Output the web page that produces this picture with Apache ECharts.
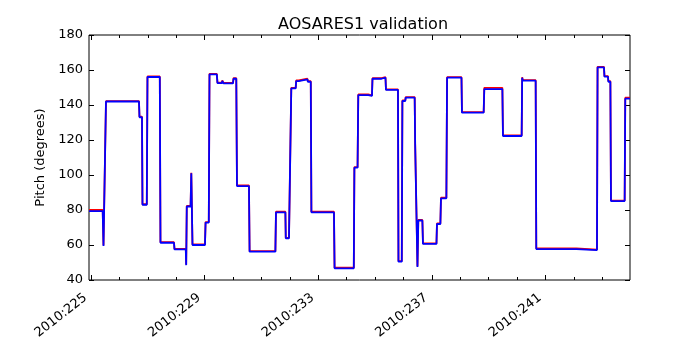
<!DOCTYPE html>
<html>
<head>
<meta charset="utf-8">
<script src="https://cdn.jsdelivr.net/npm/echarts@6/dist/echarts.min.js"></script>
<style>
  html, body { margin: 0; padding: 0; background: #fff; }
  #main { width: 700px; height: 350px; }
</style>
</head>
<body>
<div id="main"></div>
<script>
// day of year 2010 (fractional) at each vertex of the step trace
var days = [
  224.930, 225.412, 225.440, 225.500, 225.528, 226.690, 226.708, 226.796, 226.813, 226.965,
  226.989, 227.423, 227.447, 227.923, 227.940, 228.338, 228.352, 228.373, 228.507, 228.532,
  228.549, 228.574, 229.014, 229.035, 229.148, 229.173, 229.430, 229.454, 229.613, 229.623,
  229.658, 229.665, 230.000, 230.018, 230.116, 230.141, 230.563, 230.585, 231.493, 231.514,
  231.845, 231.859, 231.972, 231.982, 232.028, 232.053, 232.208, 232.225, 232.313, 232.331,
  232.623, 232.634, 232.739, 232.761, 233.556, 233.577, 234.254, 234.275, 234.387, 234.412,
  234.764, 234.775, 234.894, 234.912, 235.229, 235.239, 235.370, 235.387, 235.810, 235.827,
  235.944, 235.965, 236.067, 236.081, 236.398, 236.415, 236.475, 236.496, 236.525, 236.669,
  236.690, 237.165, 237.183, 237.303, 237.324, 237.514, 237.539, 238.046, 238.063, 238.827,
  238.849, 239.486, 239.507, 240.165, 240.183, 240.204, 240.658, 240.680, 242.095, 242.113,
  242.817, 242.838, 243.063, 243.081, 243.204, 243.218, 243.289, 243.310, 243.792, 243.813,
  243.979
];
// telemetry pitch (blue)
var bluePitch = [
  79.4, 79.4, 59.4, 59.4, 142, 142, 133, 133, 83, 83,
  156, 156, 61.3, 61.3, 57.5, 57.5, 48.5, 82, 82, 101,
  100, 60, 60, 72.8, 72.8, 157.5, 157.5, 152.5, 152.5, 153.8,
  153.8, 152.4, 152.4, 155, 155, 93.7, 93.7, 56.2, 56.2, 78.7,
  78.7, 63.8, 63.8, 63, 63, 149.5, 149.5, 153.7, 153.7, 154.7,
  154.7, 153.3, 153.3, 78.7, 78.7, 46.7, 46.7, 104.2, 104.2, 145.7,
  145.7, 145.2, 145.2, 155, 155, 155.6, 155.6, 148.6, 148.6, 50.5,
  50.5, 142.3, 142.3, 144.2, 144.2, 117.5, 117.5, 47.5, 74, 74,
  60.6, 60.6, 72, 72, 86.7, 86.7, 155.6, 155.6, 135.6, 135.6,
  149.1, 149.1, 122.3, 122.3, 155.6, 153.9, 153.9, 57.7, 57.7, 57.1,
  57.1, 161.5, 161.5, 156.2, 156.2, 153.3, 153.3, 85.1, 85.1, 143.6,
  143.6
];
// model pitch (red)
var redPitch = [
  80.0, 80.0, 59.8, 59.8, 142.2, 142.2, 133.3, 133.3, 83.3, 83.3,
  156.3, 156.3, 61.6, 61.6, 57.8, 57.8, 48.9, 82.3, 82.3, 101.3,
  100.3, 60.3, 60.3, 73.1, 73.1, 157.8, 157.8, 152.8, 152.8, 154.1,
  154.1, 152.7, 152.7, 155.3, 155.3, 94.0, 94.0, 56.5, 56.5, 79.0,
  79.0, 64.1, 64.1, 63.3, 63.3, 149.8, 149.8, 154.0, 154.0, 155.0,
  155.0, 153.6, 153.6, 79.0, 79.0, 47.0, 47.0, 104.5, 104.5, 146.0,
  146.0, 145.5, 145.5, 155.3, 155.3, 155.9, 155.9, 148.9, 148.9, 50.8,
  50.8, 142.6, 142.6, 144.5, 144.5, 117.8, 117.8, 47.8, 74.3, 74.3,
  60.9, 60.9, 72.3, 72.3, 87.0, 87.0, 155.9, 155.9, 135.9, 135.9,
  149.8, 149.8, 122.6, 122.6, 155.9, 154.2, 154.2, 58.0, 58.0, 57.4,
  57.4, 161.8, 161.8, 156.5, 156.5, 153.6, 153.6, 85.4, 85.4, 144.2,
  144.2
];
var majorDays = [225, 229, 233, 237, 241];
var minorDays = [225, 226, 227, 228, 229, 230, 231, 232, 233, 234, 235, 236, 237, 238, 239, 240, 241, 242, 243];

function pairs(xs, ys) {
    var out = [];
    for (var i = 0; i < xs.length; i++) {
        out.push([xs[i], ys[i]]);
    }
    return out;
}

var font = 'DejaVu Sans';
var xMin = 224.93, xMax = 243.98;

function xAxisDef(pos, ticks, len, showLabel) {
    return {
        type: 'value',
        position: pos,
        min: xMin,
        max: xMax,
        axisLine: { show: false },
        splitLine: { show: false },
        axisTick: { show: true, inside: true, length: len, customValues: ticks, lineStyle: { color: '#000' } },
        axisLabel: {
            show: showLabel,
            customValues: majorDays,
            rotate: 38,
            margin: 12,
            padding: [0, 7, 0, 0],
            fontFamily: font,
            fontSize: 13,
            color: '#000',
            formatter: function (v) { return '2010:' + v; }
        }
    };
}

var chart = echarts.init(document.getElementById('main'));
var option = {
    animation: false,
    backgroundColor: '#fff',
    title: {
        text: 'AOSARES1 validation',
        left: 358,
        textAlign: 'center',
        top: 12,
        textStyle: { fontFamily: font, fontSize: 16, fontWeight: 'normal', color: '#000' }
    },
    grid: {
        left: 89, right: 70, top: 35, bottom: 70,
        show: true, borderColor: '#000', borderWidth: 1, backgroundColor: '#fff'
    },
    xAxis: [
        xAxisDef('bottom', majorDays, 5, true),
        xAxisDef('bottom', minorDays, 3, false),
        xAxisDef('top', majorDays, 5, false),
        xAxisDef('top', minorDays, 3, false)
    ],
    yAxis: [
        {
            type: 'value', position: 'left', min: 40, max: 180, interval: 20,
            name: 'Pitch (degrees)', nameLocation: 'middle', nameGap: 38,
            nameTextStyle: { fontFamily: font, fontSize: 13, color: '#000' },
            axisLine: { show: false }, splitLine: { show: false },
            axisTick: { inside: true, length: 5, lineStyle: { color: '#000' } },
            axisLabel: { fontFamily: font, fontSize: 13, color: '#000', margin: 6 }
        },
        {
            type: 'value', position: 'right', min: 40, max: 180, interval: 20,
            axisLine: { show: false }, splitLine: { show: false },
            axisTick: { inside: true, length: 5, lineStyle: { color: '#000' } },
            axisLabel: { show: false }
        }
    ],
    series: [
        {
            name: 'model', type: 'line', xAxisIndex: 0, yAxisIndex: 0,
            data: pairs(days, redPitch), showSymbol: false,
            lineStyle: { color: '#ff0000', width: 1.8 }
        },
        {
            name: 'telemetry', type: 'line', xAxisIndex: 0, yAxisIndex: 0,
            data: pairs(days, bluePitch), showSymbol: false,
            lineStyle: { color: '#0000ff', width: 1.8 }
        }
    ]
};
chart.setOption(option);
</script>
</body>
</html>
